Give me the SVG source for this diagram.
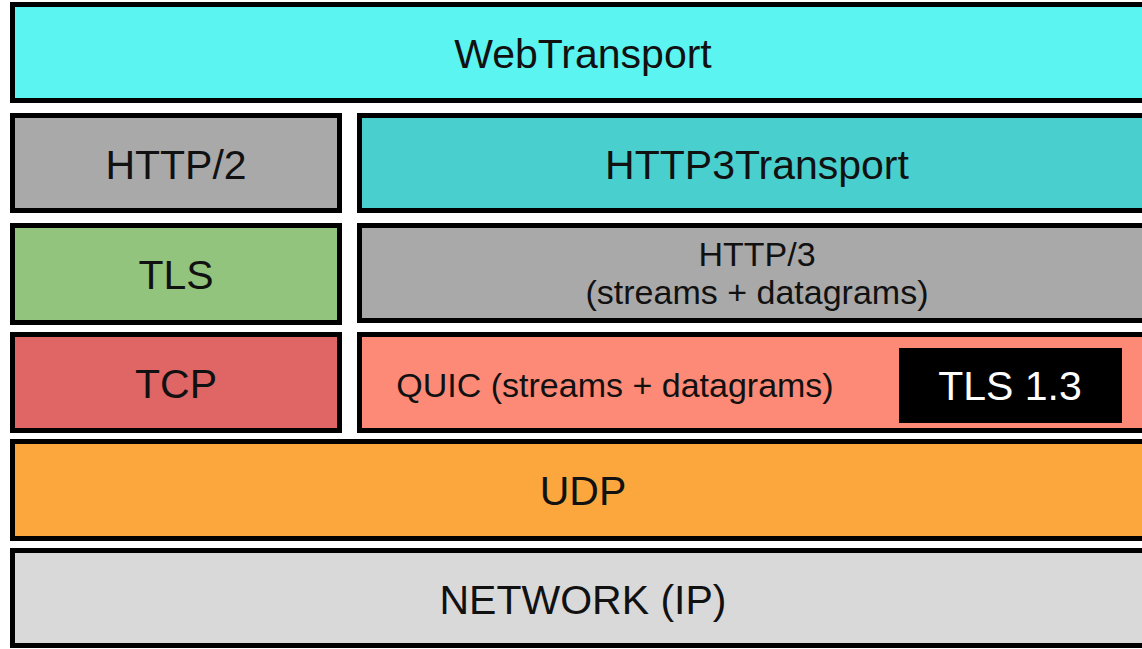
<svg xmlns="http://www.w3.org/2000/svg" width="1142" height="649" viewBox="0 0 1142 649">
<style>
.box{stroke:#000;stroke-width:5}
.t{font-family:"Liberation Sans",Arial,sans-serif;fill:#111;text-anchor:middle}
.big{font-size:41px}
.mid{font-size:34px}
</style>
<rect width="1142" height="649" fill="#fff"/>
<g id="webtransport">
<rect class="box" x="12.5" y="4.5" width="1150" height="96" fill="#5CF4F0"/>
<text class="t big" x="583" y="68">WebTransport</text>
</g>
<g id="http2">
<rect class="box" x="12.5" y="115.5" width="327" height="95" fill="#A9A9A9"/>
<text class="t big" x="176" y="179">HTTP/2</text>
</g>
<g id="http3transport">
<rect class="box" x="359.5" y="115.5" width="800" height="95" fill="#4ACFCF"/>
<text class="t big" x="757" y="179">HTTP3Transport</text>
</g>
<g id="tls">
<rect class="box" x="12.5" y="225.5" width="327" height="97" fill="#93C47D"/>
<text class="t big" x="176" y="289">TLS</text>
</g>
<g id="http3">
<rect class="box" x="359.5" y="225.5" width="800" height="95" fill="#A9A9A9"/>
<text class="t mid" x="757" y="266">HTTP/3</text>
<text class="t mid" x="757" y="304">(streams + datagrams)</text>
</g>
<g id="tcp">
<rect class="box" x="12.5" y="334.5" width="327" height="96" fill="#E06666"/>
<text class="t big" x="176" y="398">TCP</text>
</g>
<g id="quic">
<rect class="box" x="359.5" y="334.5" width="800" height="96" fill="#FC8A77"/>
<text class="t mid" x="615" y="397">QUIC (streams + datagrams)</text>
</g>
<g id="tls13">
<rect x="899" y="348" width="223" height="75" fill="#000"/>
<text class="t big" x="1010" y="400" style="fill:#fff">TLS 1.3</text>
</g>
<g id="udp">
<rect class="box" x="12.5" y="441.5" width="1150" height="97" fill="#FBA73E"/>
<text class="t big" x="583" y="505">UDP</text>
</g>
<g id="network">
<rect class="box" x="12.5" y="550.5" width="1150" height="95" fill="#D9D9D9"/>
<text class="t big" x="583" y="614">NETWORK (IP)</text>
</g>
<g id="connectors"/>
</svg>
